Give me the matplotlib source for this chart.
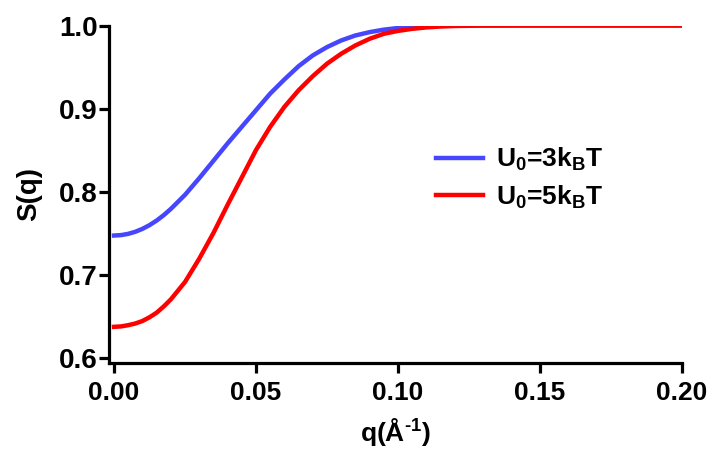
import matplotlib.pyplot as plt

plt.rcParams['font.family'] = ['Liberation Sans', 'DejaVu Sans']
plt.rcParams['font.weight'] = 'bold'
plt.rcParams['mathtext.fontset'] = 'custom'
plt.rcParams['mathtext.rm'] = 'Liberation Sans:bold'
plt.rcParams['mathtext.it'] = 'Liberation Sans:bold'
plt.rcParams['mathtext.bf'] = 'Liberation Sans:bold'

# values
q = [0.000, 0.0025, 0.005, 0.0075, 0.010, 0.0125, 0.015, 0.0175, 0.020, 0.025,
     0.030, 0.035, 0.040, 0.045, 0.050, 0.055, 0.060, 0.065, 0.070, 0.075,
     0.080, 0.085, 0.090, 0.095, 0.100, 0.105, 0.110, 0.115, 0.120, 0.130,
     0.140, 0.150, 0.175, 0.200]
s_3kT = [0.747, 0.7475, 0.749, 0.7515, 0.755, 0.7595, 0.765, 0.7715, 0.779, 0.796,
         0.816, 0.837, 0.858, 0.878, 0.898, 0.918, 0.935, 0.951, 0.964, 0.974,
         0.982, 0.988, 0.992, 0.995, 0.997, 0.9985, 0.9993, 0.9997, 0.9999, 1.0,
         1.0, 1.0, 1.0, 1.0]
s_5kT = [0.637, 0.6375, 0.639, 0.641, 0.644, 0.6485, 0.654, 0.6615, 0.670, 0.691,
         0.719, 0.750, 0.784, 0.817, 0.850, 0.878, 0.902, 0.922, 0.939, 0.954,
         0.966, 0.976, 0.984, 0.990, 0.9935, 0.996, 0.9977, 0.9988, 0.9994, 0.9999,
         1.0, 1.0, 1.0, 1.0]

x_ticks = [0.00, 0.05, 0.10, 0.15, 0.20]
y_ticks = [0.6, 0.7, 0.8, 0.9, 1.0]

fig = plt.figure(figsize=(7.12, 4.49), dpi=100)
ax = fig.add_axes([0.1531, 0.1915, 0.8048, 0.7517])

ax.plot(q, s_3kT, color='#4646ff', lw=3.2, label=r'U$_0$=3k$_B$T')
ax.plot(q, s_5kT, color='#ff0000', lw=3.2, label=r'U$_0$=5k$_B$T')

ax.set_xlim(-0.00176, 0.2)
ax.set_ylim(0.5934, 1.0)
ax.set_xticks(x_ticks)
ax.set_xticklabels(['%.2f' % v for v in x_ticks])
ax.set_yticks(y_ticks)
ax.set_yticklabels(['%.1f' % v for v in y_ticks])

for side in ['top', 'right']:
    ax.spines[side].set_visible(False)
for side in ['left', 'bottom']:
    ax.spines[side].set_linewidth(2.3)

ax.tick_params(axis='both', width=2.3, length=7)
ax.tick_params(axis='x', pad=6, labelsize=19)
ax.tick_params(axis='y', pad=1, labelsize=20)

ax.set_xlabel('q($\\mathrm{\\AA}^{\u20101}$)', fontsize=19, fontweight='bold', labelpad=8)
ax.set_ylabel('S(q)', fontsize=20, fontweight='bold', labelpad=12)

ax.legend(loc='upper left', bbox_to_anchor=(0.53, 0.714), frameon=False,
          fontsize=19, handlelength=1.75, handletextpad=0.5, labelspacing=0.4)

plt.savefig('out.png')
